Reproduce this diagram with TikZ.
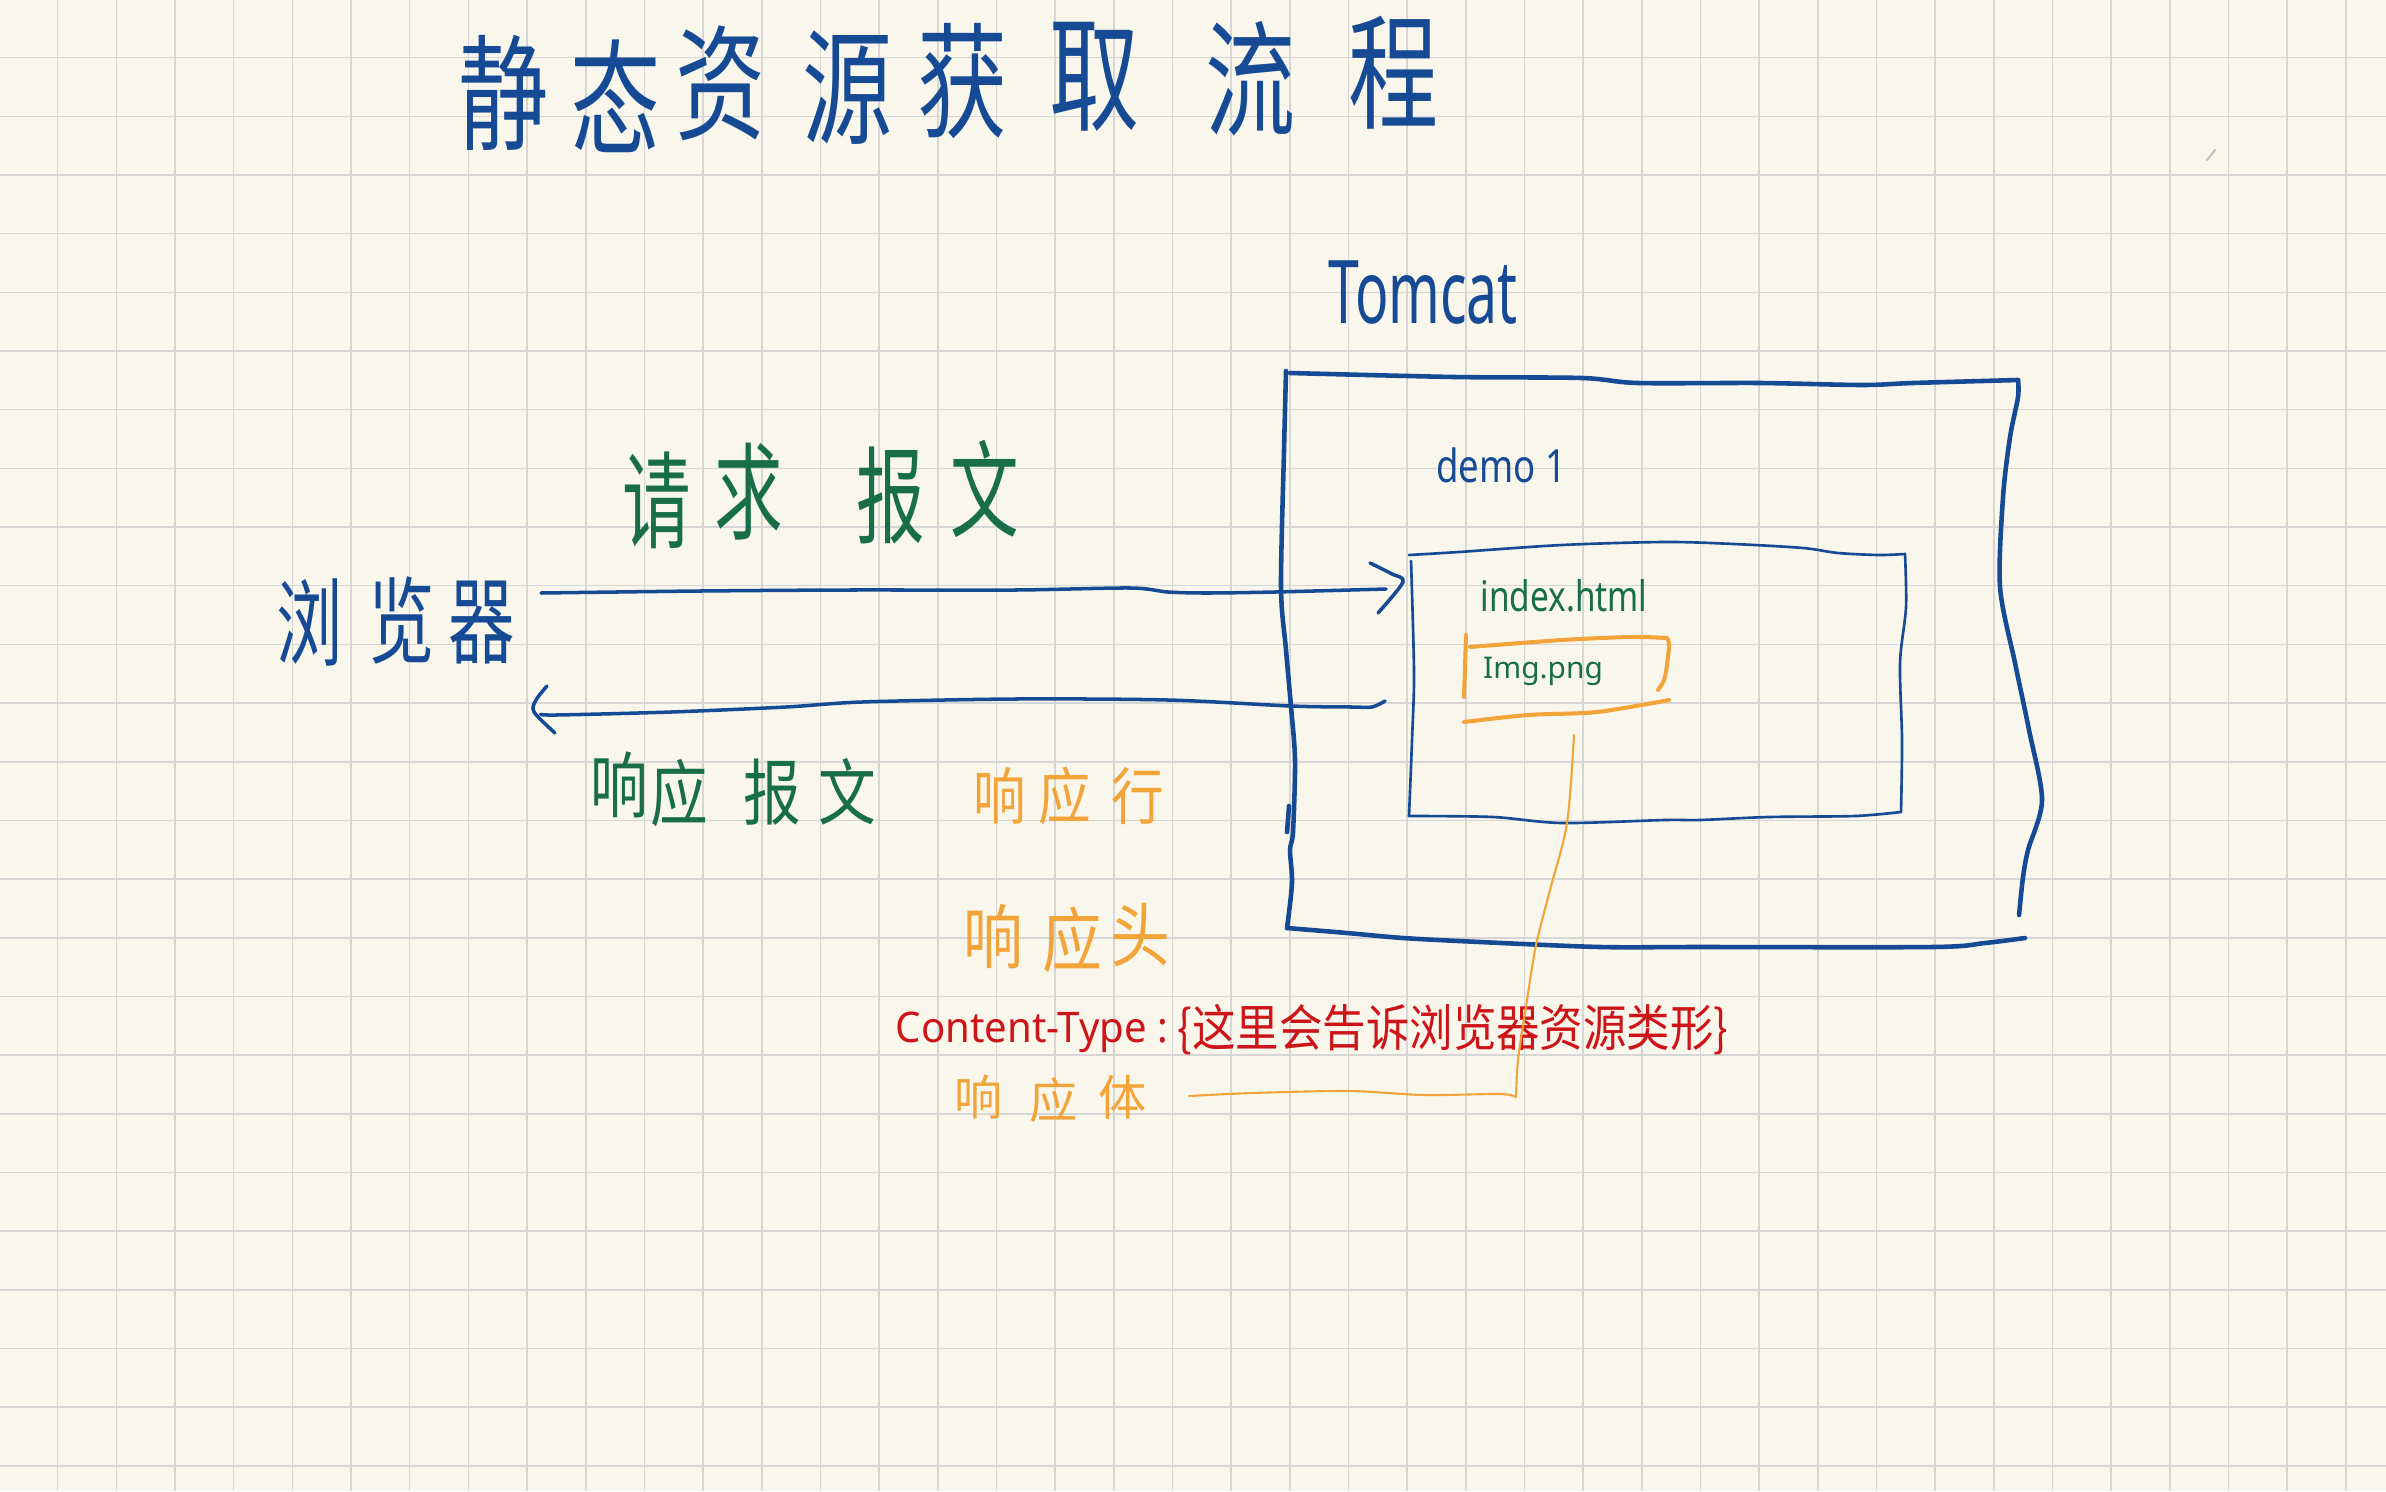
\documentclass[tikz,border=0pt]{standalone}
\usepackage{fontspec}
\setmainfont{Noto Sans}
\newfontfamily\cjk{Noto Sans CJK SC}
\definecolor{paper}{RGB}{249,247,236}
\definecolor{gridc}{RGB}{214,214,214}
\definecolor{tblue}{RGB}{22,74,148}
\definecolor{tgreen}{RGB}{24,110,70}
\definecolor{torange}{RGB}{242,164,58}
\definecolor{tred}{RGB}{205,20,25}
\newcommand{\hx}[2]{\scalebox{#1}[1]{#2}}
\begin{document}
\begin{tikzpicture}[x=0.01cm,y=-0.01cm,
  gridln/.style={draw=gridc,line width=0.45pt},
  pen/.style={line cap=round,line join=round},
  outerbox/.style={pen,draw=tblue,line width=1.3pt},
  innerbox/.style={pen,draw=tblue,line width=0.75pt},
  arrowln/.style={pen,draw=tblue,line width=1.0pt},
  obox/.style={pen,draw=torange,line width=1.15pt},
  oline/.style={pen,draw=torange,line width=0.6pt},
  ttl/.style={text=tblue,inner sep=0pt,font=\cjk\fontsize{35.6}{36}\selectfont},
  brw/.style={text=tblue,inner sep=0pt,font=\cjk\fontsize{27}{28}\selectfont},
  req/.style={text=tgreen,inner sep=0pt,font=\cjk\fontsize{30}{31}\selectfont},
  rsp/.style={text=tgreen,inner sep=0pt,font=\cjk\fontsize{20.5}{21}\selectfont},
  rline/.style={text=torange,inner sep=0pt,font=\cjk\fontsize{17.6}{18}\selectfont},
  rhead/.style={text=torange,inner sep=0pt,font=\cjk\fontsize{20}{21}\selectfont},
  rbody/.style={text=torange,inner sep=0pt,font=\cjk\fontsize{13.7}{14}\selectfont},
  redcn/.style={text=tred,inner sep=0pt,font=\cjk\fontsize{14.2}{15}\selectfont},
  redlt/.style={text=tred,inner sep=0pt,font=\fontsize{12}{13}\selectfont},
  bluelt/.style={text=tblue,inner sep=0pt},
  greenlt/.style={text=tgreen,inner sep=0pt}]
\useasboundingbox (0,0) rectangle (2386,1491);
\fill[paper] (0,0) rectangle (2386,1491);
\foreach \k in {1,...,40} \draw[gridln] ({58.67*\k-1},0) -- ({58.67*\k-1},1491);
\foreach \k in {1,...,25} \draw[gridln] (0,{58.67*\k-1}) -- (2386,{58.67*\k-1});

% faint mark
\draw[pen,draw=black!25,line width=0.6pt] (2207,160) -- (2215,150);

% title
\foreach \c/\x/\y [count=\i] in {静/504/93,态/616/96,资/721/83,源/848/88,获/963/81,取/1095/77,流/1251/79,程/1394/73}
  \node[ttl] (t\i) at (\x,\y) {\hx{0.72}{\c}};

% browser
\foreach \c/\x/\y [count=\i] in {浏/310/622,览/402/620,器/482/623}
  \node[brw] (b\i) at (\x,\y) {\hx{0.7}{\c}};

% request label
\foreach \c/\x/\y [count=\i] in {请/657/500,求/749/492,报/891/496,文/985/489}
  \node[req] (q\i) at (\x,\y) {\hx{0.65}{\c}};

% response label
\foreach \c/\x/\y [count=\i] in {响/619/785,应/679/793,报/772/792,文/847/792}
  \node[rsp] (p\i) at (\x,\y) {\hx{0.8}{\c}};

% response line / head / body
\foreach \c/\x/\y [count=\i] in {响/1000/796,应/1065/796,行/1138/796}
  \node[rline] (l\i) at (\x,\y) {\hx{0.85}{\c}};
\foreach \c/\x/\y [count=\i] in {响/993/937,应/1072/940,头/1140/935}
  \node[rhead] (h\i) at (\x,\y) {\hx{0.85}{\c}};
\foreach \c/\x/\y [count=\i] in {响/979/1097,应/1054/1100,体/1123/1097}
  \node[rbody] (y\i) at (\x,\y) {\c};

% content-type
\node[redlt] (ct) at (1032,1032) {\hx{0.95}{Content-Type :}};
\node[redcn] (cn) at (1453,1030) {\hx{0.87}{\{这里会告诉浏览器资源类形\}}};

% Tomcat labels
\node[bluelt,font=\fontsize{25}{26}\selectfont] (tomcat) at (1423,293) {\hx{0.63}{Tomcat}};
\node[bluelt,font=\fontsize{13}{14}\selectfont] (demo) at (1501,465) {\hx{0.8}{demo 1}};
\node[greenlt,font=\fontsize{12}{13}\selectfont] (idx) at (1564,596) {\hx{0.79}{index.html}};
\node[greenlt,font=\fontsize{8.5}{9}\selectfont] (img) at (1543,671) {Img.png};

% outer Tomcat box
\draw[outerbox] plot[smooth,tension=0.5] coordinates {(1286,371) (1284,450) (1281,587) (1286,650) (1291,707) (1295,760) (1293,832) (1290,850) (1292,883) (1287,928)};
\draw[outerbox] (1289,806) -- (1287,832);
\draw[outerbox] plot[smooth,tension=0.5] coordinates {(1287,928) (1347,933) (1403,938) (1480,942) (1600,947) (1700,947) (1933,947) (1985,943) (2025,938)};
\draw[outerbox] plot[smooth,tension=0.5] coordinates {(1290,373) (1454,377) (1582,378) (1638,383) (1760,383) (1862,385) (1913,383) (2018,380)};
\draw[outerbox] plot[smooth,tension=0.5] coordinates {(2018,380) (2018,397) (2010,437) (2003,497) (2000,587) (2015,663) (2029,730) (2042,800) (2028,850) (2023,877) (2019,915)};

% inner demo1 box
\draw[innerbox] plot[smooth,tension=0.5] coordinates {(1409,555) (1459,552) (1562,545) (1665,542) (1734,544) (1803,548) (1838,553) (1879,555) (1905,554)};
\draw[innerbox] plot[smooth,tension=0.5] coordinates {(1905,554) (1906,607) (1900,663) (1902,740) (1901,812)};
\draw[innerbox] plot[smooth,tension=0.5] coordinates {(1901,812) (1855,816) (1769,817) (1700,820) (1665,820) (1562,823) (1493,817) (1409,816)};
\draw[innerbox] plot[smooth,tension=0.5] coordinates {(1411,561) (1414,673) (1412,740) (1409,816)};

% orange box around Img.png
\draw[obox] (1466,635) -- (1464,697);
\draw[obox] plot[smooth,tension=0.5] coordinates {(1470,647) (1562,640) (1631,637) (1667,638)};
\draw[obox] plot[smooth,tension=0.5] coordinates {(1667,638) (1669,645) (1667,665) (1664,680) (1658,690)};
\draw[obox] plot[smooth,tension=0.5] coordinates {(1464,722) (1528,715) (1597,712) (1669,700)};

% orange connector from Img.png to body
\coordinate (imgb) at (1574,735);
\coordinate (bodye) at (1189,1096);
\draw[oline] plot[smooth,tension=0.5] coordinates {(imgb) (1567,823) (1550,890) (1536,945) (1527,1000) (1518,1060) (1516,1097)};
\draw[oline] plot[smooth,tension=0.5] coordinates {(1516,1097) (1500,1094) (1424,1095) (1349,1091) (1252,1093) (bodye)};

% request arrow
\coordinate (reqs) at (541,593);
\coordinate (reqe) at (1386,589);
\draw[arrowln] plot[smooth,tension=0.5] coordinates {(reqs) (700,591) (850,590) (1015,590) (1130,588) (1168,592) (1207,593) (1275,592) (reqe)};
\draw[arrowln] plot[smooth,tension=0.5] coordinates {(1370,563) (1392,574) (1403,582) (1378,613)};

% response arrow
\coordinate (rsps) at (1385,701);
\coordinate (rspe) at (541,714);
\draw[arrowln] plot[smooth,tension=0.5] coordinates {(rsps) (1372,707) (1352,707) (1291,706) (1168,700) (1015,699) (862,702) (786,707) (671,712) (556,715) (rspe)};
\draw[arrowln] plot[smooth,tension=0.5] coordinates {(547,686) (536,700) (534,712) (555,733)};
\end{tikzpicture}
\end{document}
